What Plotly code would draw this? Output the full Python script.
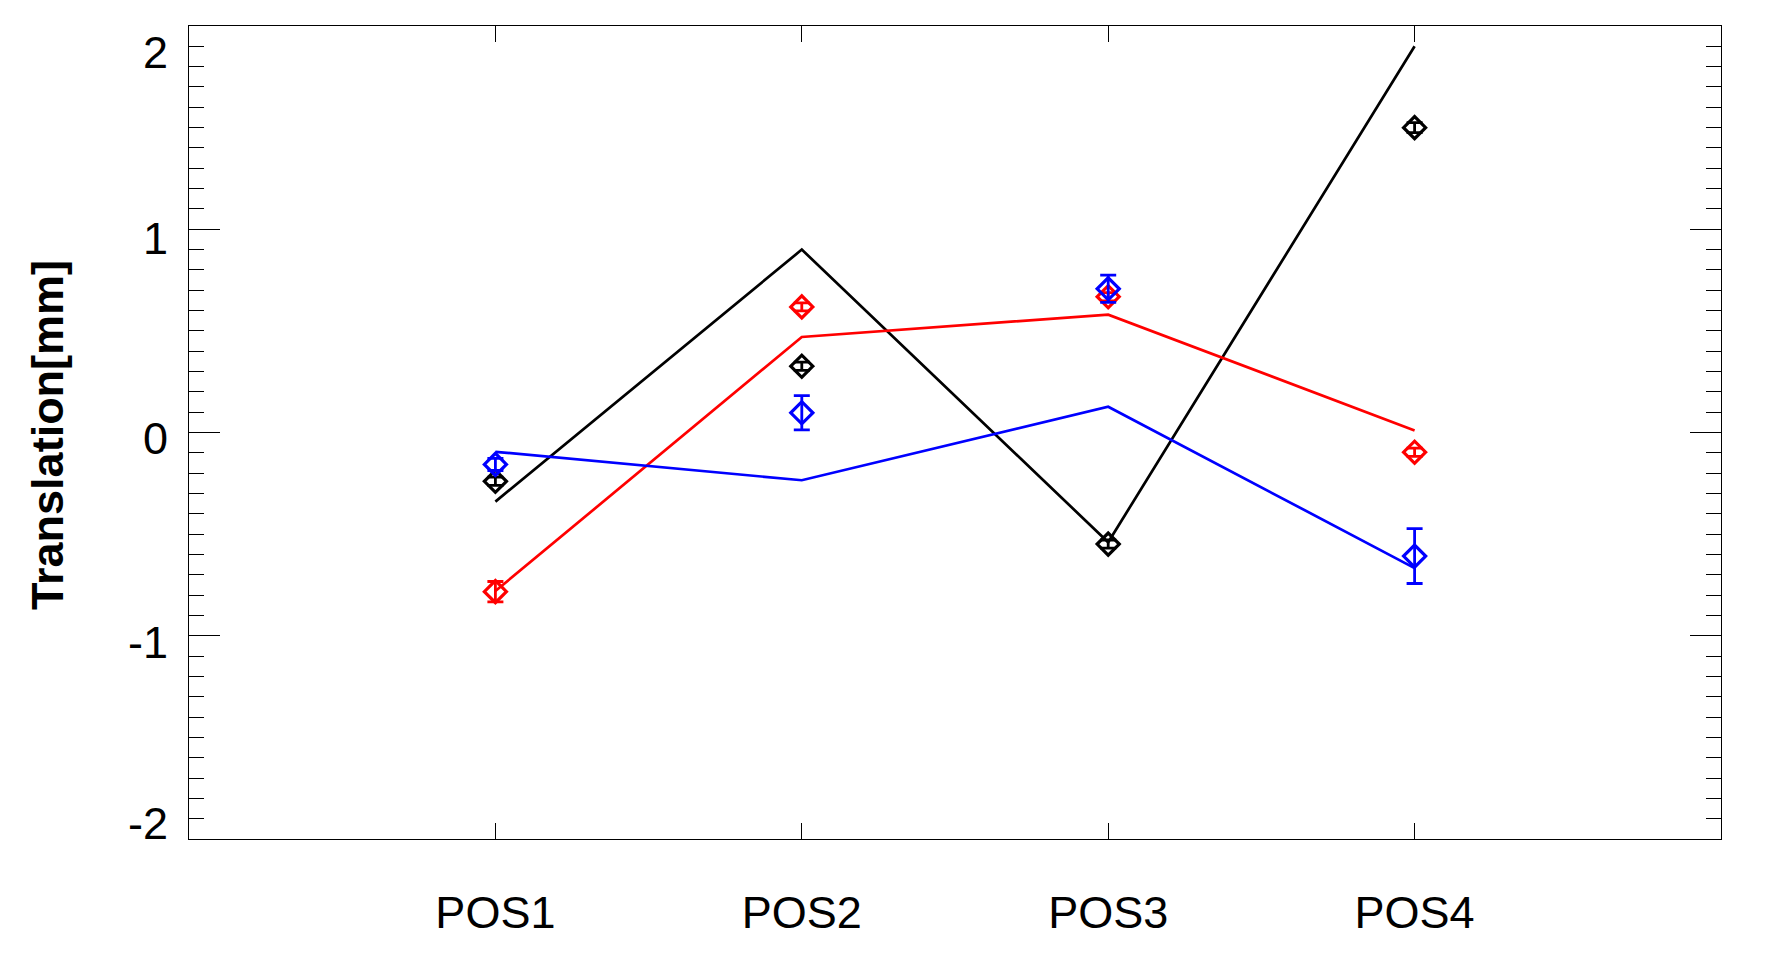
import plotly.graph_objects as go

positions = [1, 2, 3, 4]
pos_labels = ["POS1", "POS2", "POS3", "POS4"]

# line series (no markers)
black_line = [-0.34, 0.90, -0.54, 1.90]
red_line = [-0.78, 0.47, 0.58, 0.01]
blue_line = [-0.095, -0.235, 0.127, -0.667]

# measured points with error bars
black_pts = [-0.24, 0.326, -0.549, 1.50]
black_err = [0.02, 0.02, 0.02, 0.025]
red_pts = [-0.783, 0.618, 0.668, -0.097]
red_err = [0.05, 0.02, 0.02, 0.02]
blue_pts = [-0.157, 0.097, 0.707, -0.608]
blue_err = [0.03, 0.084, 0.067, 0.135]

y_tickvals = [-2, -1, 0, 1, 2]
y_ticktext = ["-2", "-1", "0", "1", "2"]
y_title = "Translation[mm]"

FONT = "Liberation Sans, Arial, sans-serif"

fig = go.Figure()

for vals, col in [(black_line, "black"), (red_line, "#ff0000"), (blue_line, "#0000ff")]:
    fig.add_trace(go.Scatter(x=positions, y=vals, mode="lines",
                             line=dict(color=col, width=2.7), showlegend=False))

for vals, errs, col in [(black_pts, black_err, "black"),
                        (red_pts, red_err, "#ff0000"),
                        (blue_pts, blue_err, "#0000ff")]:
    fig.add_trace(go.Scatter(
        x=positions, y=vals, mode="markers",
        marker=dict(symbol="diamond-open", size=17, color=col,
                    line=dict(color=col, width=3.2)),
        error_y=dict(type="data", array=errs, visible=True, color=col,
                     thickness=2.8, width=8),
        showlegend=False))

fig.update_layout(
    width=1770, height=974,
    margin=dict(l=181, r=57, t=18, b=143, autoexpand=False),
    paper_bgcolor="white", plot_bgcolor="white",
    font=dict(family=FONT, color="black", size=45),
)

fig.update_xaxes(
    range=[0, 5], tickvals=positions, ticktext=pos_labels,
    showgrid=False, zeroline=False, automargin=False,
    showline=True, linecolor="black", linewidth=1.2, mirror="ticks",
    ticks="inside", ticklen=16, tickwidth=1.2, tickcolor="black",
    tickfont=dict(size=45, family=FONT),
    ticklabelstandoff=34,
)

fig.update_yaxes(
    range=[-2, 2], tickvals=y_tickvals, ticktext=y_ticktext,
    showticklabels=False,
    showgrid=False, zeroline=False, automargin=False,
    showline=True, linecolor="black", linewidth=1.2, mirror="ticks",
    ticks="inside", ticklen=31, tickwidth=1.2, tickcolor="black",
    minor=dict(dtick=0.1, ticks="inside", ticklen=15, tickwidth=1.2,
               tickcolor="black", showgrid=False),
)

# y tick labels (end labels sit inside the frame, as in the original)
label_shift = {2: -26, 1: -9, 0: -6, -1: -7, -2: 16}
for v, t in zip(y_tickvals, y_ticktext):
    fig.add_annotation(text=t, xref="paper", yref="y", x=0, y=v,
                       xanchor="right", yanchor="middle", xshift=-19,
                       yshift=label_shift[v], showarrow=False,
                       font=dict(size=45, family=FONT, color="black"))

fig.add_annotation(
    text="<b>" + y_title + "</b>", textangle=-90,
    xref="paper", yref="paper",
    x=(48 - 189) / 1532, y=0.497,
    xanchor="center", yanchor="middle", showarrow=False,
    font=dict(size=45, family=FONT, color="black"),
)

fig.write_html("out.html")
